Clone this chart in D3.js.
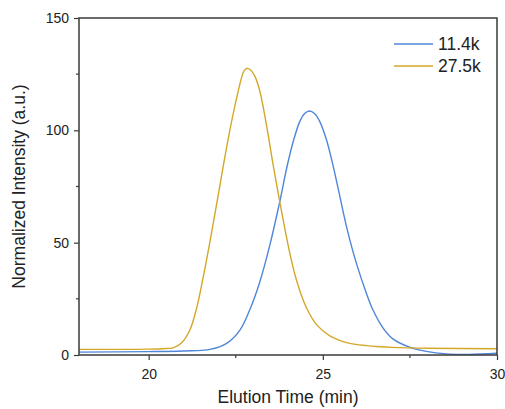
<!DOCTYPE html>
<html lang="en">
<head>
    <meta charset="UTF-8">
    <title>Elution profiles</title>
    <script src="https://d3js.org/d3.v7.min.js"></script>
    <style>
        body { margin: 0; background: #fff; }
        text { font-family: "Liberation Sans", Arial, sans-serif; fill: #222; }
    </style>
</head>
<body>
<div id="chart"></div>

<script>
    // series
    const seriesNames = ['11.4k', '27.5k'];
    const seriesColors = ['#4f86d9', '#d3a829'];

    const blueTime = [18.0, 20.0, 21.0, 21.76, 22.24, 22.62, 22.9, 23.19, 23.48, 23.76, 23.96, 24.15, 24.34, 24.48,
        24.62, 24.76, 24.91, 25.1, 25.29, 25.49, 25.69, 25.96, 26.25, 26.44, 26.73, 27.01, 27.49, 27.97, 28.55,
        29.2, 30.0];
    const blueVal = [1.3, 1.5, 1.8, 2.5, 5.2, 11.1, 20, 32.5, 49, 68, 83, 95, 104, 107.5,
        108.6, 107.5, 104, 96, 84.5, 70.5, 56.5, 41, 27.5, 20, 12, 7.2, 3.5, 1.6, 0.5,
        0.3, 0.75];

    const goldTime = [18.0, 20.0, 20.5, 20.7, 20.95, 21.18, 21.38, 21.57, 21.76, 21.95, 22.14, 22.33, 22.52, 22.71,
        22.78, 22.84, 22.92, 23.05, 23.19, 23.38, 23.57, 23.76, 23.9, 24.05, 24.24, 24.53, 24.82, 25.2, 25.68,
        26.06, 26.54, 27.0, 28.0, 30.0];
    const goldVal = [2.5, 2.6, 2.9, 3.2, 5.5, 11, 21, 35, 50.5, 67, 84, 100, 114, 125.5,
        127.2, 127.6, 127.0, 124, 117.5, 102.5, 85, 68.5, 57, 45.5, 33.5, 21, 13.5, 8.5, 5.5,
        4.5, 3.8, 3.4, 3.0, 2.8];

    const xTicks = [20, 25, 30];
    const xMinorTicks = [22.5, 27.5];
    const yTicks = [0, 50, 100, 150];
    const yMinorTicks = [25, 75, 125];

    var W = 505, H = 409;
    var margin = {top: 18, right: 8, bottom: 54, left: 79},
        width = W - margin.left - margin.right,
        height = H - margin.top - margin.bottom;

    var svg = d3.select("#chart").append("svg")
        .attr("width", W)
        .attr("height", H);

    var g = svg.append("g")
        .attr("transform", "translate(" + margin.left + "," + margin.top + ")");

    var x = d3.scaleLinear().domain([18, 30]).range([0, width]);
    var y = d3.scaleLinear().domain([0, 150]).range([height, 0]);

    g.append("clipPath").attr("id", "clip")
        .append("rect").attr("width", width).attr("height", height);

    // curves
    var series = [
        {name: seriesNames[0], color: seriesColors[0], t: blueTime, v: blueVal},
        {name: seriesNames[1], color: seriesColors[1], t: goldTime, v: goldVal}
    ];
    var line = d3.line()
        .x(function (d) { return x(d[0]); })
        .y(function (d) { return y(d[1]); })
        .curve(d3.curveCatmullRom.alpha(0.5));

    series.forEach(function (s) {
        g.append("path")
            .datum(d3.zip(s.t, s.v))
            .attr("clip-path", "url(#clip)")
            .attr("fill", "none")
            .attr("stroke", s.color)
            .attr("stroke-width", 1.4)
            .attr("d", line);
    });

    // axes
    var axisColor = "#3a3a3a";
    var xAxis = g.append("g")
        .attr("transform", "translate(0," + height + ")")
        .call(d3.axisBottom(x).tickValues(xTicks).tickSize(5).tickPadding(9).tickFormat(d3.format("d")));
    xAxis.append("g").selectAll("line").data(xMinorTicks).enter().append("line")
        .attr("x1", function (d) { return x(d); }).attr("x2", function (d) { return x(d); })
        .attr("y1", 0).attr("y2", 3);

    var yAxis = g.append("g")
        .call(d3.axisLeft(y).tickValues(yTicks).tickSize(5).tickPadding(5).tickFormat(d3.format("d")));
    yAxis.append("g").selectAll("line").data(yMinorTicks).enter().append("line")
        .attr("x1", 0).attr("x2", -3)
        .attr("y1", function (d) { return y(d); }).attr("y2", function (d) { return y(d); });

    [xAxis, yAxis].forEach(function (a) {
        a.select(".domain").remove();
        a.selectAll("line").attr("stroke", axisColor).attr("stroke-width", 1.2);
        a.selectAll("text").style("font-size", "14px").attr("fill", "#222");
    });

    // frame
    g.append("rect")
        .attr("width", width).attr("height", height)
        .attr("fill", "none")
        .attr("stroke", axisColor)
        .attr("stroke-width", 1.5);

    // axis titles
    svg.append("text")
        .attr("x", margin.left + width / 2)
        .attr("y", 403)
        .attr("text-anchor", "middle")
        .style("font-size", "17.5px")
        .text("Elution Time (min)");

    svg.append("text")
        .attr("transform", "translate(25," + (margin.top + height / 2) + ")rotate(-90)")
        .attr("text-anchor", "middle")
        .style("font-size", "17.5px")
        .text("Normalized Intensity (a.u.)");

    // legend
    var legend = svg.append("g");
    series.forEach(function (s, i) {
        var ly = 44 + i * 22;
        legend.append("line")
            .attr("x1", 394).attr("x2", 433)
            .attr("y1", ly).attr("y2", ly)
            .attr("stroke", s.color).attr("stroke-width", 1.4);
        legend.append("text")
            .attr("x", 438).attr("y", ly + 6)
            .style("font-size", "17.5px")
            .text(s.name);
    });
</script>
</body>
</html>
